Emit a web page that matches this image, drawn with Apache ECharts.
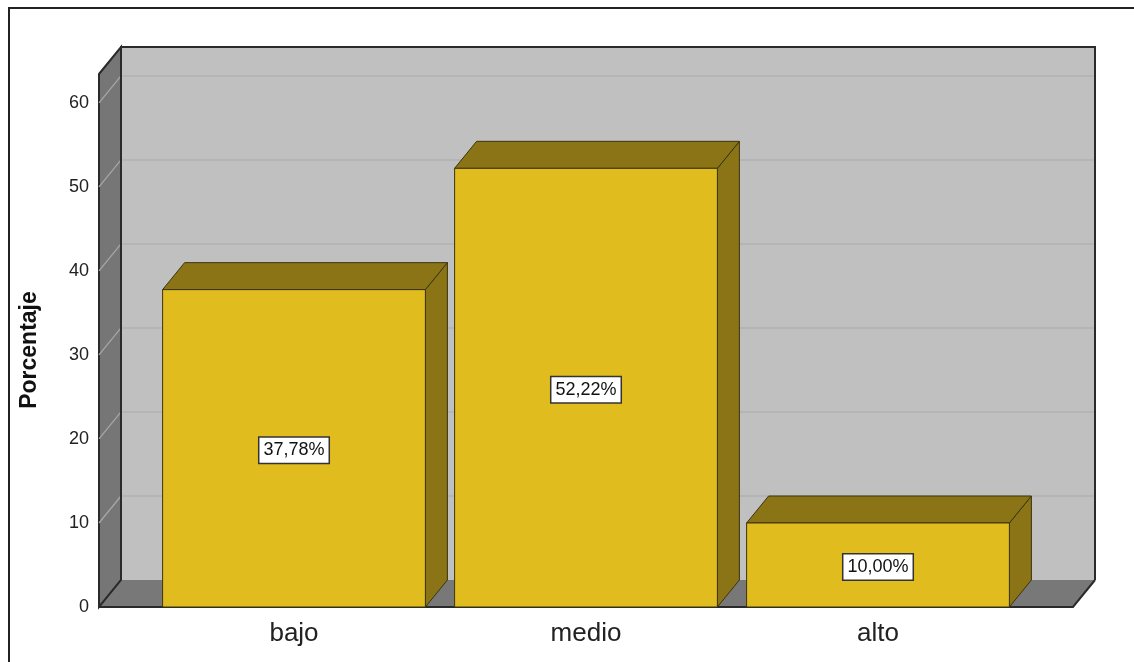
<!DOCTYPE html>
<html>
<head>
<meta charset="utf-8">
<script src="https://cdn.jsdelivr.net/npm/echarts@6/dist/echarts.min.js"></script>
<style>html,body{margin:0;padding:0;background:#fff}#c{width:1134px;height:662px}</style>
</head>
<body>
<div id="c"></div>
<script>
var categories = ['bajo', 'medio', 'alto'];
var percentages = [37.78, 52.22, 10.00];
var yTicks = [0, 10, 20, 30, 40, 50, 60];

var DX = 22, DY = -27, PAD = 49;
var FONT = '"Liberation Sans", Arial, sans-serif';
var EDGE = '#2a2a2a';

function wallsRender(params, api) {
  var cs = params.coordSys;
  var y0 = api.coord([0, 0])[1];
  var yTop = cs.y;
  var xl = cs.x - PAD, xr = cs.x + cs.width + PAD;
  var children = [];
  children.push({type: 'polygon', shape: {points: [[xl + DX, yTop + DY], [xr + DX, yTop + DY], [xr + DX, y0 + DY], [xl + DX, y0 + DY]]},
    style: {fill: '#c0c0c0', stroke: null}});
  children.push({type: 'polygon', shape: {points: [[xl, y0], [xl + DX, y0 + DY], [xr + DX, y0 + DY], [xr, y0]]},
    style: {fill: '#787878', stroke: null}});
  children.push({type: 'polygon', shape: {points: [[xl, yTop], [xl + DX, yTop + DY], [xl + DX, y0 + DY], [xl, y0]]},
    style: {fill: '#767676', stroke: EDGE, lineWidth: 2}});
  yTicks.forEach(function (v) {
    if (v === 0) return;
    var y = api.coord([0, v])[1];
    children.push({type: 'line', shape: {x1: xl + DX, y1: y + DY, x2: xr + DX, y2: y + DY}, style: {stroke: '#b2b2b2', lineWidth: 1.5}});
    children.push({type: 'line', shape: {x1: xl, y1: y, x2: xl + DX, y2: y + DY}, style: {stroke: '#a8a8a8', lineWidth: 1.2}});
  });
  children.push({type: 'polyline', shape: {points: [[xl + DX, y0 + DY], [xl + DX, yTop + DY], [xr + DX, yTop + DY], [xr + DX, y0 + DY]]},
    style: {fill: null, stroke: EDGE, lineWidth: 2}});
  children.push({type: 'polyline', shape: {points: [[xl, y0], [xr, y0], [xr + DX, y0 + DY]]},
    style: {fill: null, stroke: EDGE, lineWidth: 2}});
  return {type: 'group', children: children};
}

function barRender(params, api) {
  var idx = api.value(0);
  var val = api.value(1);
  var base = api.coord([idx, 0]);
  var top = api.coord([idx, val]);
  var bw = api.size([1, 0])[0] * 0.9;
  var x0 = base[0] - bw / 2, x1 = base[0] + bw / 2;
  var yb = base[1], yt = top[1];
  var lbl = val.toFixed(2).replace('.', ',') + '%';
  var edge = '#3b3410';
  return {type: 'group', children: [
    {type: 'polygon', shape: {points: [[x1, yt], [x1 + DX, yt + DY], [x1 + DX, yb + DY], [x1, yb]]},
      style: {fill: '#8a7415', stroke: edge, lineWidth: 1}},
    {type: 'polygon', shape: {points: [[x0, yt], [x0 + DX, yt + DY], [x1 + DX, yt + DY], [x1, yt]]},
      style: {fill: '#8a7415', stroke: edge, lineWidth: 1}},
    {type: 'rect', shape: {x: x0, y: yt, width: bw, height: yb - yt},
      style: {fill: '#e0bc1f', stroke: edge, lineWidth: 1}},
    {type: 'text', x: base[0], y: (yt + yb) / 2 + 2,
      style: {text: lbl, align: 'center', verticalAlign: 'middle', font: '18px ' + FONT, fill: '#111',
        backgroundColor: '#fff', borderColor: '#333', borderWidth: 1.5, padding: [4, 4, 3, 4]}}
  ]};
}

var chart = echarts.init(document.getElementById('c'));
chart.setOption({
  backgroundColor: '#fff',
  animation: false,
  grid: {left: 148, right: 110, top: 74, bottom: 55},
  xAxis: {type: 'category', data: categories,
    axisLine: {show: false}, axisTick: {show: false}, splitLine: {show: false},
    axisLabel: {margin: 14, fontSize: 26, color: '#222', fontFamily: FONT}},
  yAxis: {type: 'value', min: 0, max: 63.45, interval: 10,
    axisLine: {show: false}, axisTick: {show: false}, splitLine: {show: false},
    axisLabel: {margin: 59, fontSize: 18, color: '#222', fontFamily: FONT,
      formatter: function (v) { return yTicks.indexOf(v) >= 0 ? String(v) : ''; }}},
  graphic: [
    {type: 'rect', x: 9, y: 8, shape: {x: 0, y: 0, width: 1200, height: 720}, style: {fill: null, stroke: '#222', lineWidth: 2}, z: 100},
    {type: 'text', x: 30, y: 350, rotation: Math.PI / 2,
      style: {text: 'Porcentaje', align: 'center', verticalAlign: 'middle', font: 'bold 23px ' + FONT, fill: '#111'}}
  ],
  series: [
    {type: 'custom', renderItem: wallsRender, data: [[0, 0]], z: 1, silent: true},
    {type: 'custom', renderItem: barRender, z: 2,
      data: percentages.map(function (v, i) { return [i, v]; })}
  ]
});
</script>
</body>
</html>
